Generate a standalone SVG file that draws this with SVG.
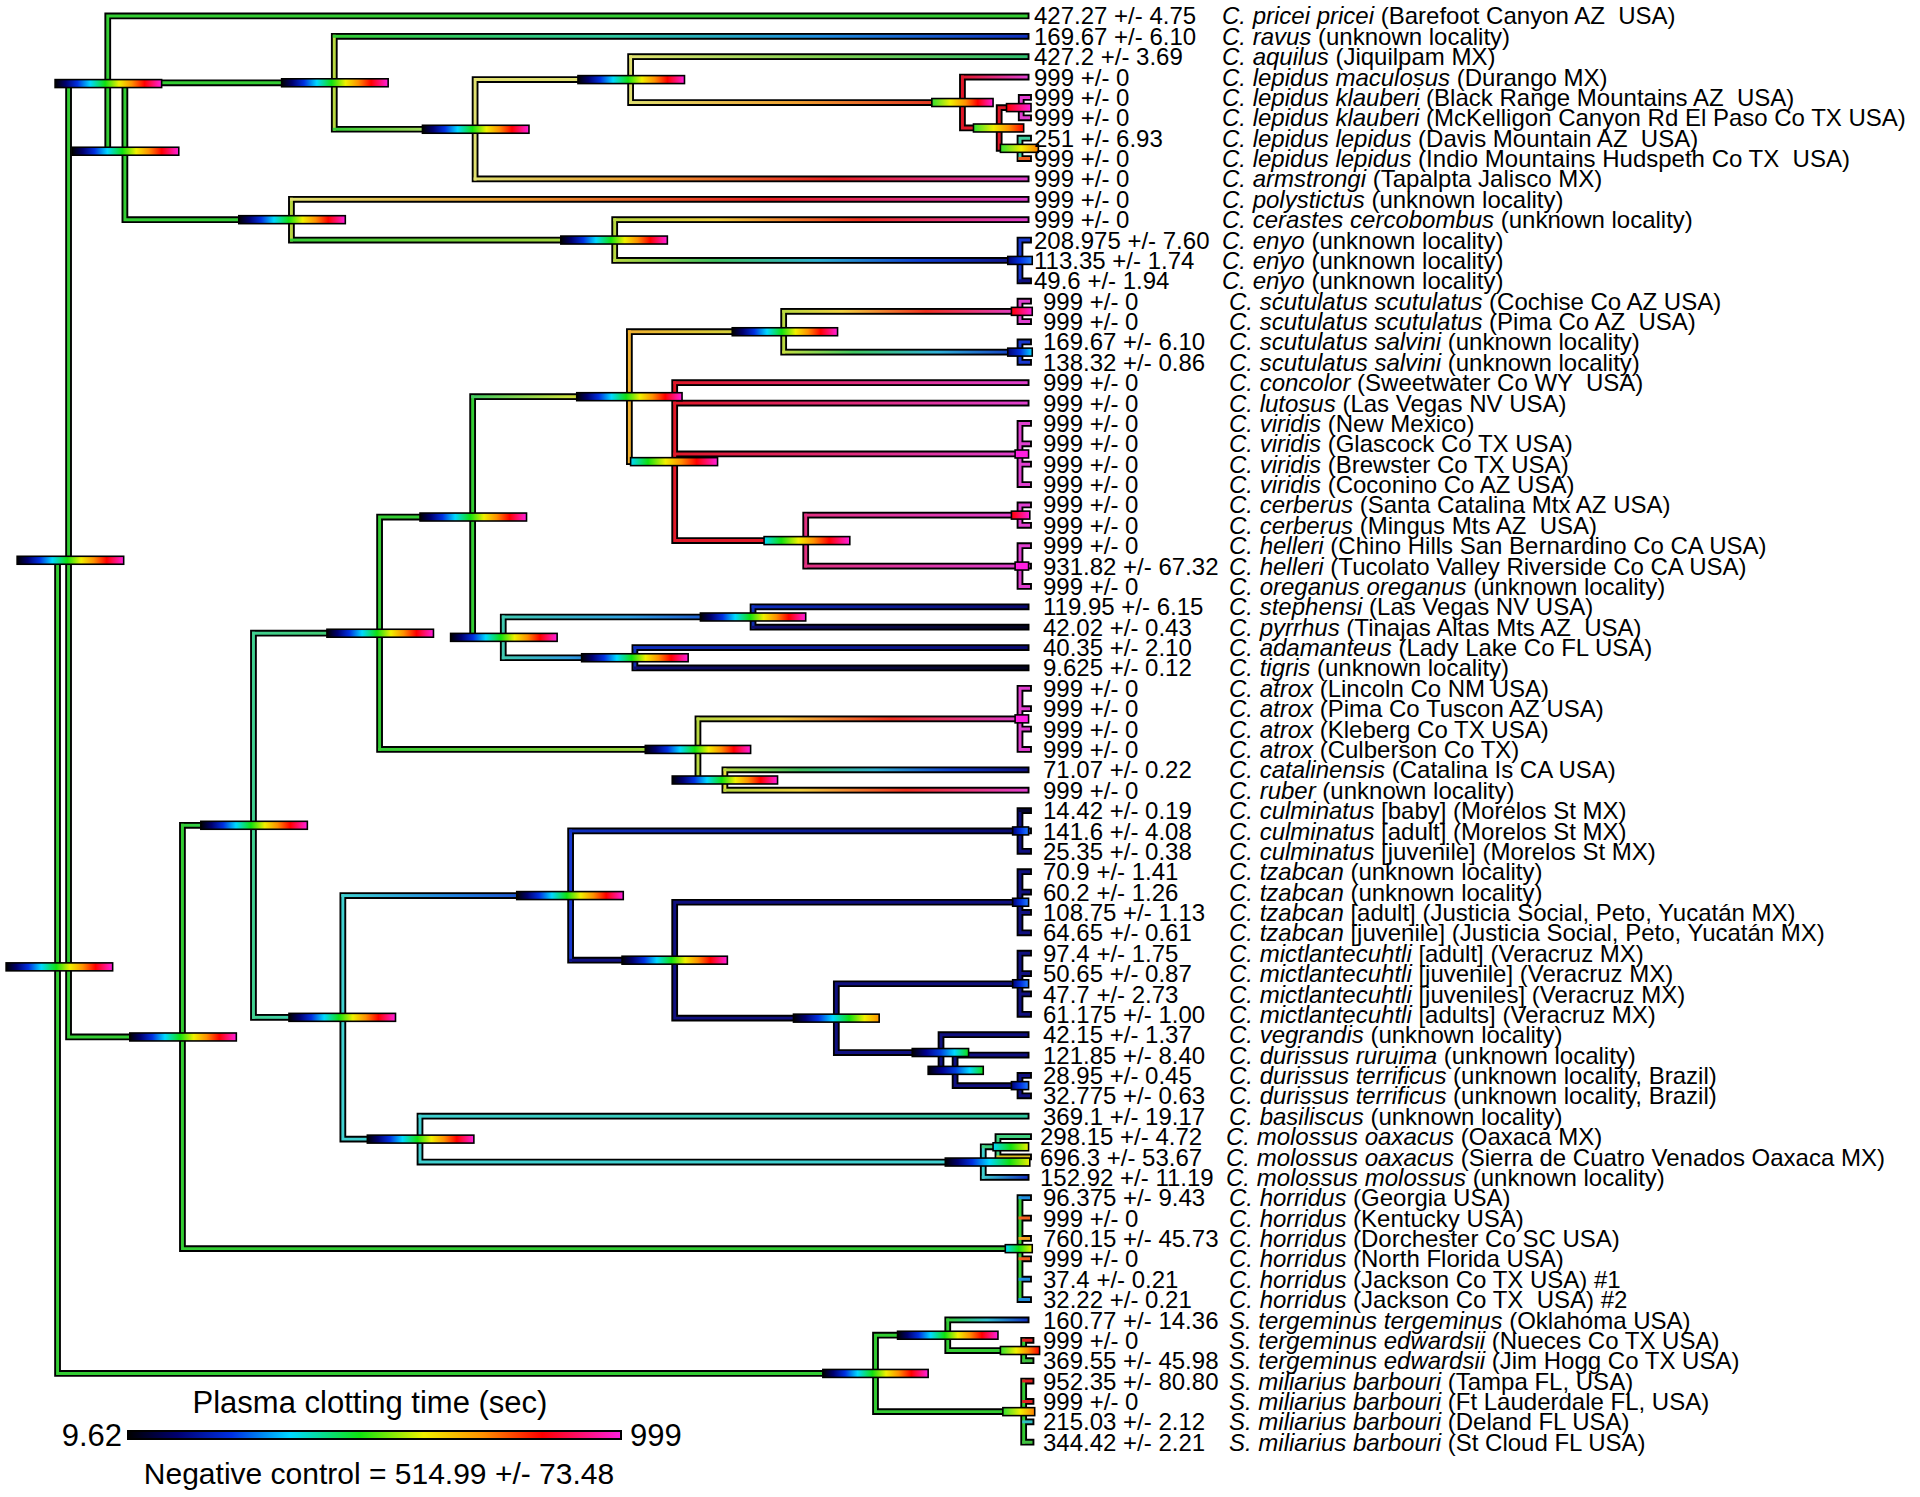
<svg xmlns="http://www.w3.org/2000/svg" width="1920" height="1497" viewBox="0 0 1920 1497">
<style>
text{font-family:"Liberation Sans",Arial,sans-serif;font-size:24px;fill:#000;white-space:pre}
.i{font-style:italic}
.lg{font-size:31px}
.bo{fill:none;stroke:#000;stroke-width:5.5;stroke-linecap:square}
.in{fill:none;stroke-width:2.4;stroke-linecap:square}
.bar{stroke:#000;stroke-width:1.3}
</style>
<defs>
<linearGradient id="rb"><stop offset="0" stop-color="#000"/><stop offset=".1" stop-color="#000070"/><stop offset=".21" stop-color="#0030e0"/><stop offset=".33" stop-color="#00d8ff"/><stop offset=".47" stop-color="#10e010"/><stop offset=".6" stop-color="#f0f000"/><stop offset=".72" stop-color="#ff9000"/><stop offset=".84" stop-color="#ff0000"/><stop offset="1" stop-color="#ff20e0"/></linearGradient>
<linearGradient id="rb_c"><stop offset="0" stop-color="#00d8ff"/><stop offset=".2" stop-color="#10e010"/><stop offset=".4" stop-color="#f0f000"/><stop offset=".58" stop-color="#ff9000"/><stop offset=".76" stop-color="#ff0000"/><stop offset="1" stop-color="#ff20e0"/></linearGradient>
<linearGradient id="rb_ko"><stop offset="0" stop-color="#000"/><stop offset=".14" stop-color="#000070"/><stop offset=".29" stop-color="#0030e0"/><stop offset=".46" stop-color="#00d8ff"/><stop offset=".65" stop-color="#10e010"/><stop offset=".83" stop-color="#f0f000"/><stop offset="1" stop-color="#ff9000"/></linearGradient>
<linearGradient id="rb_kg"><stop offset="0" stop-color="#000"/><stop offset=".25" stop-color="#000090"/><stop offset=".5" stop-color="#0040e0"/><stop offset=".75" stop-color="#00d8ff"/><stop offset="1" stop-color="#10e010"/></linearGradient>
<linearGradient id="rb_gm"><stop offset="0" stop-color="#30e030"/><stop offset=".3" stop-color="#f0f000"/><stop offset=".55" stop-color="#ff9000"/><stop offset=".75" stop-color="#ff0000"/><stop offset="1" stop-color="#ff20e0"/></linearGradient>
<linearGradient id="rb_gr"><stop offset="0" stop-color="#30e030"/><stop offset=".4" stop-color="#f0f000"/><stop offset=".7" stop-color="#ff9000"/><stop offset="1" stop-color="#ff0000"/></linearGradient>
<linearGradient id="rb_go"><stop offset="0" stop-color="#30e030"/><stop offset=".55" stop-color="#f0f000"/><stop offset="1" stop-color="#ff8000"/></linearGradient>
<linearGradient id="rb_rm"><stop offset="0" stop-color="#ff0000"/><stop offset="1" stop-color="#ff20e0"/></linearGradient>
<linearGradient id="rb_nb"><stop offset="0" stop-color="#000070"/><stop offset=".5" stop-color="#0030e0"/><stop offset="1" stop-color="#2080ff"/></linearGradient>
<linearGradient id="rb_nc"><stop offset="0" stop-color="#000070"/><stop offset=".5" stop-color="#0030e0"/><stop offset="1" stop-color="#00d8ff"/></linearGradient>
<linearGradient id="rb_ky"><stop offset="0" stop-color="#000"/><stop offset=".15" stop-color="#000070"/><stop offset=".32" stop-color="#0030e0"/><stop offset=".52" stop-color="#00d8ff"/><stop offset=".76" stop-color="#10e010"/><stop offset="1" stop-color="#f0f000"/></linearGradient>
<linearGradient id="rb_cy"><stop offset="0" stop-color="#00d8ff"/><stop offset=".5" stop-color="#10e010"/><stop offset="1" stop-color="#f0f000"/></linearGradient>
<linearGradient id="g_ravus"><stop offset="0" stop-color="#33cc33"/><stop offset=".4" stop-color="#30c8a0"/><stop offset=".7" stop-color="#2090e0"/><stop offset="1" stop-color="#1030c0"/></linearGradient>
<linearGradient id="g_gy"><stop offset="0" stop-color="#33cc33"/><stop offset="1" stop-color="#e0e070"/></linearGradient>
<linearGradient id="g_aq"><stop offset="0" stop-color="#e0e070"/><stop offset=".5" stop-color="#80d050"/><stop offset="1" stop-color="#30c070"/></linearGradient>
<linearGradient id="g_yor"><stop offset="0" stop-color="#e0e070"/><stop offset=".5" stop-color="#f0a030"/><stop offset="1" stop-color="#e02020"/></linearGradient>
<linearGradient id="g_ym"><stop offset="0" stop-color="#e0e070"/><stop offset=".3" stop-color="#f0a030"/><stop offset=".65" stop-color="#e82020"/><stop offset="1" stop-color="#e040d0"/></linearGradient>
<linearGradient id="g_rm"><stop offset="0" stop-color="#e01828"/><stop offset="1" stop-color="#e040d0"/></linearGradient>
<linearGradient id="g_gyg"><stop offset="0" stop-color="#33cc33"/><stop offset="1" stop-color="#b8d840"/></linearGradient>
<linearGradient id="g_cer"><stop offset="0" stop-color="#b8d840"/><stop offset=".25" stop-color="#f0d040"/><stop offset=".6" stop-color="#f03020"/><stop offset="1" stop-color="#e040d0"/></linearGradient>
<linearGradient id="g_enyo"><stop offset="0" stop-color="#b8d840"/><stop offset=".25" stop-color="#40c060"/><stop offset=".5" stop-color="#30b0d0"/><stop offset=".75" stop-color="#1040d0"/><stop offset="1" stop-color="#101080"/></linearGradient>
<linearGradient id="g_gt"><stop offset="0" stop-color="#33cc33"/><stop offset="1" stop-color="#40d090"/></linearGradient>
<linearGradient id="g_tg"><stop offset="0" stop-color="#40d090"/><stop offset="1" stop-color="#40c860"/></linearGradient>
<linearGradient id="g_gyo"><stop offset="0" stop-color="#40c860"/><stop offset=".6" stop-color="#c8e040"/><stop offset="1" stop-color="#f0b030"/></linearGradient>
<linearGradient id="g_oy"><stop offset="0" stop-color="#f0b030"/><stop offset="1" stop-color="#c8e040"/></linearGradient>
<linearGradient id="g_salv"><stop offset="0" stop-color="#c8e040"/><stop offset=".3" stop-color="#40c860"/><stop offset=".65" stop-color="#30b0d8"/><stop offset="1" stop-color="#1030c0"/></linearGradient>
<linearGradient id="g_or"><stop offset="0" stop-color="#f0b030"/><stop offset="1" stop-color="#e01828"/></linearGradient>
<linearGradient id="g_pm"><stop offset="0" stop-color="#e03080"/><stop offset="1" stop-color="#e040d0"/></linearGradient>
<linearGradient id="g_tb"><stop offset="0" stop-color="#40c8b0"/><stop offset=".5" stop-color="#30a0e0"/><stop offset="1" stop-color="#1030c0"/></linearGradient>
<linearGradient id="g_bn"><stop offset="0" stop-color="#1030c0"/><stop offset="1" stop-color="#0a0a70"/></linearGradient>
<linearGradient id="g_nk"><stop offset="0" stop-color="#101070"/><stop offset="1" stop-color="#050520"/></linearGradient>
<linearGradient id="g_tc"><stop offset="0" stop-color="#40d090"/><stop offset="1" stop-color="#40d0d0"/></linearGradient>
<linearGradient id="g_cb"><stop offset="0" stop-color="#40d0d0"/><stop offset=".5" stop-color="#2080e0"/><stop offset="1" stop-color="#1830c0"/></linearGradient>
<linearGradient id="g_ct"><stop offset="0" stop-color="#40d0d0"/><stop offset="1" stop-color="#30c8a0"/></linearGradient>
<linearGradient id="g_cbl"><stop offset="0" stop-color="#40d0d0"/><stop offset="1" stop-color="#1030c0"/></linearGradient>
<linearGradient id="g_terg"><stop offset="0" stop-color="#33cc33"/><stop offset=".5" stop-color="#30c0d0"/><stop offset="1" stop-color="#1030c0"/></linearGradient>
</defs>
<rect width="1920" height="1497" fill="#fff"/>
<g transform="scale(1.22449)">
<g id="connectors">
<path class="bo" d="M47 457.55V1121.64M47 457.55H56M56 68.25V846.86M56 68.25H88M88 13V123.5M88 13H838M88 123.5H102M102 67.6V179.4M102 67.6H273M273 29.64V105.56M273 29.64H838M273 105.56H388M388 65V146.12M388 65H515M388 146.12H838M515 46.28V83.72M515 46.28H838M515 83.72H786M786 62.92V104.52M786 62.92H838M786 104.52H816M816 87.88V121.16M816 87.88H834M834 79.56V96.2M834 79.56H840M834 96.2H840M816 121.16H833M833 112.84V129.48M833 112.84H840M833 129.48H840M102 179.4H238M238 162.76V196.04M238 162.76H838M238 196.04H502M502 179.4V212.68M502 179.4H838M502 212.68H833M833 196.04V229.32M833 196.04H840M833 212.68H840M833 229.32H840M56 846.86H149M149 673.99V1019.72M149 1019.72H833M833 978.12V1061.32M833 978.12H840M833 994.76H840M833 1011.4H840M833 1028.04H840M833 1044.68H840M833 1061.32H840M149 673.99H207M207 517.14V830.83M207 517.14H310M310 422.24V612.04M310 422.24H386M386 323.96V520.52M386 323.96H514M514 270.92V377M514 270.92H640M640 254.28V287.56M640 254.28H833M833 245.96V262.6M833 245.96H840M833 262.6H840M640 287.56H833M833 279.24V295.88M833 279.24H840M833 295.88H840M514 377H551M551 312.52V441.48M551 312.52H838M551 329.16H838M551 370.76H833M833 345.8V395.72M833 345.8H840M833 362.44H840M833 379.08H840M833 395.72H840M551 441.48H658M658 420.68V462.28M658 420.68H833M833 412.36V429M833 412.36H840M833 429H840M658 462.28H833M833 445.64V478.92M833 445.64H840M833 462.28H840M833 478.92H840M386 520.52H411M411 503.88V537.16M411 503.88H615M615 495.56V512.2M615 495.56H838M615 512.2H838M411 537.16H518.5M518.5 528.84V545.48M518.5 528.84H838M518.5 545.48H838M310 612.04H570M570 587.08V637M570 587.08H833M833 562.12V612.04M833 562.12H840M833 578.76H840M833 595.4H840M833 612.04H840M570 637H592M592 628.68V645.32M592 628.68H838M592 645.32H838M207 830.83H280M280 731.38V930.28M280 731.38H466M466 678.6V784.16M466 678.6H833M833 661.96V695.24M833 661.96H840M833 678.6H840M833 695.24H840M466 784.16H551M551 736.84V831.48M551 736.84H833M833 711.88V761.8M833 711.88H840M833 728.52H840M833 745.16H840M833 761.8H840M551 831.48H683M683 803.4V859.56M683 803.4H833M833 778.44V828.36M833 778.44H840M833 795.08H840M833 811.72H840M833 828.36H840M683 859.56H768.5M768.5 845V874.12M768.5 845H838M768.5 874.12H780M780 861.64V886.6M780 861.64H838M780 886.6H833M833 878.28V894.92M833 878.28H840M833 894.92H840M280 930.28H343M343 911.56V949M343 911.56H838M343 949H803M803 936.52V961.48M803 936.52H815M815 928.2V944.84M815 928.2H840M815 944.84H840M803 961.48H838M47 1121.64H715M715 1090.44V1152.84M715 1090.44H774M774 1077.96V1102.92M774 1077.96H838M774 1102.92H836M836 1094.6V1111.24M836 1094.6H842M836 1111.24H842M715 1152.84H836M836 1127.88V1177.8M836 1127.88H842M836 1144.52H842M836 1161.16H842M836 1177.8H842"/>
<path class="in" stroke="#33cc33" d="M47 457.55V1121.64M47 457.55H56M56 68.25V846.86M56 68.25H88M88 13V123.5M88 13H838M88 123.5H102M102 67.6V179.4M102 67.6H273M102 179.4H238M56 846.86H149M149 673.99V1019.72M149 1019.72H833M47 1121.64H715M715 1090.44V1152.84M715 1090.44H774M774 1077.96V1102.92M774 1102.92H836M715 1152.84H836M836 1094.6V1111.24M836 1127.88V1177.8M310 422.24V612.04M310 422.24H386M386 323.96V520.52M833 978.12V1061.32"/>
<path class="in" stroke="#e0e070" d="M388 65V146.12M388 65H515M515 46.28V83.72"/>
<path class="in" stroke="#b8d840" d="M273 29.64V105.56M238 162.76V196.04M502 179.4V212.68M640 254.28V287.56M570 587.08V637M570 637H592"/>
<path class="in" stroke="#e8e040" d="M592 628.68V645.32"/>
<path class="in" stroke="#f0b030" d="M514 270.92V377"/>
<path class="in" stroke="#e01828" d="M786 62.92V104.52M786 104.52H816M816 87.88V121.16M816 87.88H834M816 121.16H833M551 312.52V441.48M551 441.48H658"/>
<path class="in" stroke="#e03080" d="M658 420.68V462.28"/>
<path class="in" stroke="#e040d0" d="M834 79.56V96.2M834 79.56H840M834 96.2H840M833 245.96V262.6M833 245.96H840M833 262.6H840M833 345.8V395.72M833 345.8H840M833 362.44H840M833 379.08H840M833 395.72H840M833 412.36V429M833 412.36H840M833 429H840M833 445.64V478.92M833 445.64H840M833 462.28H840M833 478.92H840M833 562.12V612.04M833 562.12H840M833 578.76H840M833 595.4H840M833 612.04H840"/>
<path class="in" stroke="#1838d0" d="M833 196.04V229.32M833 196.04H840M833 212.68H840M833 279.24V295.88M833 279.24H840M833 295.88H840M466 678.6V784.16M833 678.6H840"/>
<path class="in" stroke="#101080" d="M833 229.32H840M466 784.16H551M551 736.84V831.48M551 736.84H833M551 831.48H683M683 803.4V859.56M683 803.4H833M683 859.56H768.5M768.5 845V874.12M768.5 845H838M768.5 874.12H780M780 861.64V886.6M780 861.64H838M780 886.6H833M833 661.96V695.24M833 695.24H840M833 711.88V761.8M833 711.88H840M833 728.52H840M833 745.16H840M833 761.8H840M833 778.44V828.36M833 778.44H840M833 795.08H840M833 811.72H840M833 828.36H840M833 878.28V894.92M833 878.28H840M833 894.92H840"/>
<path class="in" stroke="#050530" d="M833 661.96H840"/>
<path class="in" stroke="#1030b0" d="M615 495.56V512.2M518.5 528.84V545.48"/>
<path class="in" stroke="#40d090" d="M207 517.14V830.83"/>
<path class="in" stroke="#40c8b0" d="M411 503.88V537.16M386 520.52H411"/>
<path class="in" stroke="#40d0d0" d="M280 731.38V930.28M280 930.28H343M343 911.56V949M343 949H803M803 936.52V961.48"/>
<path class="in" stroke="#40d080" d="M815 928.2V944.84M803 936.52H815M815 928.2H840"/>
<path class="in" stroke="#e0c020" d="M815 944.84H840"/>
<path class="in" stroke="#40d0a0" d="M833 112.84V129.48M833 112.84H840"/>
<path class="in" stroke="#f06020" d="M833 129.48H840M833 994.76H840M833 1028.04H840"/>
<path class="in" stroke="#2090e0" d="M833 978.12H840M833 1044.68H840M833 1061.32H840"/>
<path class="in" stroke="#f0a020" d="M833 1011.4H840"/>
<path class="in" stroke="#e02020" d="M836 1094.6H842M836 1127.88H842M836 1144.52H842"/>
<path class="in" stroke="#40c040" d="M836 1111.24H842M836 1177.8H842"/>
<path class="in" stroke="#30c0c0" d="M836 1161.16H842"/>
<rect x="271.8" y="28.44" width="567.4" height="2.4" fill="url(#g_ravus)"/>
<rect x="271.8" y="104.36" width="117.4" height="2.4" fill="url(#g_gy)"/>
<rect x="513.8" y="45.08" width="325.4" height="2.4" fill="url(#g_aq)"/>
<rect x="513.8" y="82.52" width="273.4" height="2.4" fill="url(#g_yor)"/>
<rect x="386.8" y="144.92" width="452.4" height="2.4" fill="url(#g_ym)"/>
<rect x="784.8" y="61.72" width="54.4" height="2.4" fill="url(#g_rm)"/>
<rect x="236.8" y="161.56" width="602.4" height="2.4" fill="url(#g_ym)"/>
<rect x="236.8" y="194.84" width="266.4" height="2.4" fill="url(#g_gyg)"/>
<rect x="500.8" y="178.2" width="338.4" height="2.4" fill="url(#g_cer)"/>
<rect x="500.8" y="211.48" width="333.4" height="2.4" fill="url(#g_enyo)"/>
<rect x="147.8" y="672.79" width="60.4" height="2.4" fill="url(#g_gt)"/>
<rect x="205.8" y="515.94" width="105.4" height="2.4" fill="url(#g_tg)"/>
<rect x="384.8" y="322.76" width="130.4" height="2.4" fill="url(#g_gyo)"/>
<rect x="512.8" y="269.72" width="128.4" height="2.4" fill="url(#g_oy)"/>
<rect x="638.8" y="253.08" width="195.4" height="2.4" fill="url(#g_cer)"/>
<rect x="638.8" y="286.36" width="195.4" height="2.4" fill="url(#g_salv)"/>
<rect x="512.8" y="375.8" width="39.4" height="2.4" fill="url(#g_or)"/>
<rect x="549.8" y="311.32" width="289.4" height="2.4" fill="url(#g_rm)"/>
<rect x="549.8" y="327.96" width="289.4" height="2.4" fill="url(#g_rm)"/>
<rect x="549.8" y="369.56" width="284.4" height="2.4" fill="url(#g_rm)"/>
<rect x="656.8" y="419.48" width="177.4" height="2.4" fill="url(#g_pm)"/>
<rect x="656.8" y="461.08" width="177.4" height="2.4" fill="url(#g_pm)"/>
<rect x="409.8" y="502.68" width="206.4" height="2.4" fill="url(#g_tb)"/>
<rect x="613.8" y="494.36" width="225.4" height="2.4" fill="url(#g_bn)"/>
<rect x="613.8" y="511" width="225.4" height="2.4" fill="url(#g_nk)"/>
<rect x="409.8" y="535.96" width="109.9" height="2.4" fill="url(#g_tb)"/>
<rect x="517.3" y="527.64" width="321.9" height="2.4" fill="url(#g_bn)"/>
<rect x="517.3" y="544.28" width="321.9" height="2.4" fill="url(#g_nk)"/>
<rect x="308.8" y="610.84" width="262.4" height="2.4" fill="url(#g_gyg)"/>
<rect x="568.8" y="585.88" width="265.4" height="2.4" fill="url(#g_cer)"/>
<rect x="590.8" y="627.48" width="248.4" height="2.4" fill="url(#g_enyo)"/>
<rect x="590.8" y="644.12" width="248.4" height="2.4" fill="url(#g_cer)"/>
<rect x="205.8" y="829.63" width="75.4" height="2.4" fill="url(#g_tc)"/>
<rect x="278.8" y="730.18" width="188.4" height="2.4" fill="url(#g_cb)"/>
<rect x="464.8" y="677.4" width="369.4" height="2.4" fill="url(#g_bn)"/>
<rect x="341.8" y="910.36" width="497.4" height="2.4" fill="url(#g_ct)"/>
<rect x="801.8" y="960.28" width="37.4" height="2.4" fill="url(#g_cbl)"/>
<rect x="772.8" y="1076.76" width="66.4" height="2.4" fill="url(#g_terg)"/>
</g>
<g id="node-R0"><rect class="bar" x="5" y="786.35" width="87" height="6.5" fill="url(#rb)"/></g>
<g id="node-R1"><rect class="bar" x="14" y="454.3" width="87" height="6.5" fill="url(#rb)"/></g>
<g id="node-Na"><rect class="bar" x="45" y="65" width="87" height="6.5" fill="url(#rb)"/></g>
<g id="node-Na2"><rect class="bar" x="59" y="120.25" width="87" height="6.5" fill="url(#rb)"/></g>
<g id="node-Nc"><rect class="bar" x="230" y="64.35" width="87" height="6.5" fill="url(#rb)"/></g>
<g id="node-Ne"><rect class="bar" x="345" y="102.31" width="87" height="6.5" fill="url(#rb)"/></g>
<g id="node-Nf"><rect class="bar" x="472" y="61.75" width="87" height="6.5" fill="url(#rb)"/></g>
<g id="node-Ng"><rect class="bar" x="761" y="80.47" width="50" height="6.5" fill="url(#rb_gm)"/></g>
<g id="node-Nh"><rect class="bar" x="795" y="101.27" width="41" height="6.5" fill="url(#rb_gr)"/></g>
<g id="node-Ni"><rect class="bar" x="822" y="84.63" width="20" height="6.5" fill="url(#rb_rm)"/></g>
<g id="node-Nj"><rect class="bar" x="817" y="117.91" width="31" height="6.5" fill="url(#rb_go)"/></g>
<g id="node-Nd"><rect class="bar" x="195" y="176.15" width="87" height="6.5" fill="url(#rb)"/></g>
<g id="node-Nk"><rect class="bar" x="458" y="192.79" width="87" height="6.5" fill="url(#rb)"/></g>
<g id="node-Nl"><rect class="bar" x="823" y="209.43" width="20" height="6.5" fill="url(#rb_nb)"/></g>
<g id="node-Nb"><rect class="bar" x="106" y="843.61" width="87" height="6.5" fill="url(#rb)"/></g>
<g id="node-Nm"><rect class="bar" x="164" y="670.74" width="87" height="6.5" fill="url(#rb)"/></g>
<g id="node-Nn"><rect class="bar" x="267" y="513.89" width="87" height="6.5" fill="url(#rb)"/></g>
<g id="node-Np"><rect class="bar" x="343" y="418.99" width="87" height="6.5" fill="url(#rb)"/></g>
<g id="node-Nr"><rect class="bar" x="471" y="320.71" width="86" height="6.5" fill="url(#rb)"/></g>
<g id="node-Nt"><rect class="bar" x="598" y="267.67" width="86" height="6.5" fill="url(#rb)"/></g>
<g id="node-scut"><rect class="bar" x="826" y="251.03" width="17" height="6.5" fill="url(#rb_rm)"/></g>
<g id="node-salv"><rect class="bar" x="823" y="284.31" width="20" height="6.5" fill="url(#rb_nc)"/></g>
<g id="node-Nu"><rect class="bar" x="515" y="373.75" width="71" height="6.5" fill="url(#rb_c)"/></g>
<g id="node-vir"><rect class="bar" x="829" y="367.51" width="11" height="6.5" fill="#ff20e0"/></g>
<g id="node-Nv"><rect class="bar" x="624" y="438.23" width="70" height="6.5" fill="url(#rb_c)"/></g>
<g id="node-cerb"><rect class="bar" x="826" y="417.43" width="15" height="6.5" fill="url(#rb_rm)"/></g>
<g id="node-hell"><rect class="bar" x="829" y="459.03" width="11" height="6.5" fill="#ff20e0"/></g>
<g id="node-Ns"><rect class="bar" x="368" y="517.27" width="87" height="6.5" fill="url(#rb)"/></g>
<g id="node-Nw"><rect class="bar" x="572" y="500.63" width="86" height="6.5" fill="url(#rb)"/></g>
<g id="node-Nx"><rect class="bar" x="475" y="533.91" width="87" height="6.5" fill="url(#rb)"/></g>
<g id="node-Nq"><rect class="bar" x="527" y="608.79" width="86" height="6.5" fill="url(#rb)"/></g>
<g id="node-atrox"><rect class="bar" x="829" y="583.83" width="11" height="6.5" fill="#ff20e0"/></g>
<g id="node-Ny"><rect class="bar" x="549" y="633.75" width="86" height="6.5" fill="url(#rb)"/></g>
<g id="node-No"><rect class="bar" x="236" y="827.58" width="87" height="6.5" fill="url(#rb)"/></g>
<g id="node-Nz"><rect class="bar" x="422" y="728.13" width="87" height="6.5" fill="url(#rb)"/></g>
<g id="node-culm"><rect class="bar" x="827" y="675.35" width="13" height="6.5" fill="url(#rb_nb)"/></g>
<g id="node-Nab"><rect class="bar" x="508" y="780.91" width="86" height="6.5" fill="url(#rb)"/></g>
<g id="node-tzab"><rect class="bar" x="827" y="733.59" width="13" height="6.5" fill="url(#rb_nb)"/></g>
<g id="node-Nac"><rect class="bar" x="648" y="828.23" width="70" height="6.5" fill="url(#rb_ko)"/></g>
<g id="node-mict"><rect class="bar" x="827" y="800.15" width="13" height="6.5" fill="url(#rb_nb)"/></g>
<g id="node-Nad"><rect class="bar" x="745" y="856.31" width="46" height="6.5" fill="url(#rb_kg)"/></g>
<g id="node-Nae"><rect class="bar" x="758" y="870.87" width="45" height="6.5" fill="url(#rb_kg)"/></g>
<g id="node-terr"><rect class="bar" x="826" y="883.35" width="14" height="6.5" fill="url(#rb_nb)"/></g>
<g id="node-Naa"><rect class="bar" x="300" y="927.03" width="87" height="6.5" fill="url(#rb)"/></g>
<g id="node-mol"><rect class="bar" x="772" y="945.75" width="69" height="6.5" fill="url(#rb_ky)"/></g>
<g id="node-oax"><rect class="bar" x="811" y="933.27" width="29" height="6.5" fill="url(#rb_cy)"/></g>
<g id="node-horr"><rect class="bar" x="821" y="1016.47" width="22" height="6.5" fill="url(#rb_cy)"/></g>
<g id="node-S"><rect class="bar" x="672" y="1118.39" width="86" height="6.5" fill="url(#rb)"/></g>
<g id="node-Nag"><rect class="bar" x="733" y="1087.19" width="82" height="6.5" fill="url(#rb)"/></g>
<g id="node-edw"><rect class="bar" x="817" y="1099.67" width="32" height="6.5" fill="url(#rb_gr)"/></g>
<g id="node-mil"><rect class="bar" x="819" y="1149.59" width="26" height="6.5" fill="url(#rb_go)"/></g>
</g>
<g id="leaf-01"><text y="24.4"><tspan x="1034">427.27 +/- 4.75</tspan><tspan x="1222" class="i">C. pricei pricei</tspan><tspan> (Barefoot Canyon AZ  USA)</tspan></text></g>
<g id="leaf-02"><text y="44.8"><tspan x="1034">169.67 +/- 6.10</tspan><tspan x="1222" class="i">C. ravus</tspan><tspan> (unknown locality)</tspan></text></g>
<g id="leaf-03"><text y="65.2"><tspan x="1034">427.2 +/- 3.69</tspan><tspan x="1222" class="i">C. aquilus</tspan><tspan> (Jiquilpam MX)</tspan></text></g>
<g id="leaf-04"><text y="85.5"><tspan x="1034">999 +/- 0</tspan><tspan x="1222" class="i">C. lepidus maculosus</tspan><tspan> (Durango MX)</tspan></text></g>
<g id="leaf-05"><text y="105.9"><tspan x="1034">999 +/- 0</tspan><tspan x="1222" class="i">C. lepidus klauberi</tspan><tspan> (Black Range Mountains AZ  USA)</tspan></text></g>
<g id="leaf-06"><text y="126.3"><tspan x="1034">999 +/- 0</tspan><tspan x="1222" class="i">C. lepidus klauberi</tspan><tspan> (McKelligon Canyon Rd El Paso Co TX USA)</tspan></text></g>
<g id="leaf-07"><text y="146.7"><tspan x="1034">251 +/- 6.93</tspan><tspan x="1222" class="i">C. lepidus lepidus</tspan><tspan> (Davis Mountain AZ  USA)</tspan></text></g>
<g id="leaf-08"><text y="167.0"><tspan x="1034">999 +/- 0</tspan><tspan x="1222" class="i">C. lepidus lepidus</tspan><tspan> (Indio Mountains Hudspeth Co TX  USA)</tspan></text></g>
<g id="leaf-09"><text y="187.4"><tspan x="1034">999 +/- 0</tspan><tspan x="1222" class="i">C. armstrongi</tspan><tspan> (Tapalpta Jalisco MX)</tspan></text></g>
<g id="leaf-10"><text y="207.8"><tspan x="1034">999 +/- 0</tspan><tspan x="1222" class="i">C. polystictus</tspan><tspan> (unknown locality)</tspan></text></g>
<g id="leaf-11"><text y="228.2"><tspan x="1034">999 +/- 0</tspan><tspan x="1222" class="i">C. cerastes cercobombus</tspan><tspan> (unknown locality)</tspan></text></g>
<g id="leaf-12"><text y="248.5"><tspan x="1034">208.975 +/- 7.60</tspan><tspan x="1222" class="i">C. enyo</tspan><tspan> (unknown locality)</tspan></text></g>
<g id="leaf-13"><text y="268.9"><tspan x="1034">113.35 +/- 1.74</tspan><tspan x="1222" class="i">C. enyo</tspan><tspan> (unknown locality)</tspan></text></g>
<g id="leaf-14"><text y="289.3"><tspan x="1034">49.6 +/- 1.94</tspan><tspan x="1222" class="i">C. enyo</tspan><tspan> (unknown locality)</tspan></text></g>
<g id="leaf-15"><text y="309.7"><tspan x="1043">999 +/- 0</tspan><tspan x="1229" class="i">C. scutulatus scutulatus</tspan><tspan> (Cochise Co AZ USA)</tspan></text></g>
<g id="leaf-16"><text y="330.0"><tspan x="1043">999 +/- 0</tspan><tspan x="1229" class="i">C. scutulatus scutulatus</tspan><tspan> (Pima Co AZ  USA)</tspan></text></g>
<g id="leaf-17"><text y="350.4"><tspan x="1043">169.67 +/- 6.10</tspan><tspan x="1229" class="i">C. scutulatus salvini</tspan><tspan> (unknown locality)</tspan></text></g>
<g id="leaf-18"><text y="370.8"><tspan x="1043">138.32 +/- 0.86</tspan><tspan x="1229" class="i">C. scutulatus salvini</tspan><tspan> (unknown locality)</tspan></text></g>
<g id="leaf-19"><text y="391.2"><tspan x="1043">999 +/- 0</tspan><tspan x="1229" class="i">C. concolor</tspan><tspan> (Sweetwater Co WY  USA)</tspan></text></g>
<g id="leaf-20"><text y="411.6"><tspan x="1043">999 +/- 0</tspan><tspan x="1229" class="i">C. lutosus</tspan><tspan> (Las Vegas NV USA)</tspan></text></g>
<g id="leaf-21"><text y="431.9"><tspan x="1043">999 +/- 0</tspan><tspan x="1229" class="i">C. viridis</tspan><tspan> (New Mexico)</tspan></text></g>
<g id="leaf-22"><text y="452.3"><tspan x="1043">999 +/- 0</tspan><tspan x="1229" class="i">C. viridis</tspan><tspan> (Glascock Co TX USA)</tspan></text></g>
<g id="leaf-23"><text y="472.7"><tspan x="1043">999 +/- 0</tspan><tspan x="1229" class="i">C. viridis</tspan><tspan> (Brewster Co TX USA)</tspan></text></g>
<g id="leaf-24"><text y="493.1"><tspan x="1043">999 +/- 0</tspan><tspan x="1229" class="i">C. viridis</tspan><tspan> (Coconino Co AZ USA)</tspan></text></g>
<g id="leaf-25"><text y="513.4"><tspan x="1043">999 +/- 0</tspan><tspan x="1229" class="i">C. cerberus</tspan><tspan> (Santa Catalina Mtx AZ USA)</tspan></text></g>
<g id="leaf-26"><text y="533.8"><tspan x="1043">999 +/- 0</tspan><tspan x="1229" class="i">C. cerberus</tspan><tspan> (Mingus Mts AZ  USA)</tspan></text></g>
<g id="leaf-27"><text y="554.2"><tspan x="1043">999 +/- 0</tspan><tspan x="1229" class="i">C. helleri</tspan><tspan> (Chino Hills San Bernardino Co CA USA)</tspan></text></g>
<g id="leaf-28"><text y="574.6"><tspan x="1043">931.82 +/- 67.32</tspan><tspan x="1229" class="i">C. helleri</tspan><tspan> (Tucolato Valley Riverside Co CA USA)</tspan></text></g>
<g id="leaf-29"><text y="594.9"><tspan x="1043">999 +/- 0</tspan><tspan x="1229" class="i">C. oreganus oreganus</tspan><tspan> (unknown locality)</tspan></text></g>
<g id="leaf-30"><text y="615.3"><tspan x="1043">119.95 +/- 6.15</tspan><tspan x="1229" class="i">C. stephensi</tspan><tspan> (Las Vegas NV USA)</tspan></text></g>
<g id="leaf-31"><text y="635.7"><tspan x="1043">42.02 +/- 0.43</tspan><tspan x="1229" class="i">C. pyrrhus</tspan><tspan> (Tinajas Altas Mts AZ  USA)</tspan></text></g>
<g id="leaf-32"><text y="656.1"><tspan x="1043">40.35 +/- 2.10</tspan><tspan x="1229" class="i">C. adamanteus</tspan><tspan> (Lady Lake Co FL USA)</tspan></text></g>
<g id="leaf-33"><text y="676.4"><tspan x="1043">9.625 +/- 0.12</tspan><tspan x="1229" class="i">C. tigris</tspan><tspan> (unknown locality)</tspan></text></g>
<g id="leaf-34"><text y="696.8"><tspan x="1043">999 +/- 0</tspan><tspan x="1229" class="i">C. atrox</tspan><tspan> (Lincoln Co NM USA)</tspan></text></g>
<g id="leaf-35"><text y="717.2"><tspan x="1043">999 +/- 0</tspan><tspan x="1229" class="i">C. atrox</tspan><tspan> (Pima Co Tuscon AZ USA)</tspan></text></g>
<g id="leaf-36"><text y="737.6"><tspan x="1043">999 +/- 0</tspan><tspan x="1229" class="i">C. atrox</tspan><tspan> (Kleberg Co TX USA)</tspan></text></g>
<g id="leaf-37"><text y="758.0"><tspan x="1043">999 +/- 0</tspan><tspan x="1229" class="i">C. atrox</tspan><tspan> (Culberson Co TX)</tspan></text></g>
<g id="leaf-38"><text y="778.3"><tspan x="1043">71.07 +/- 0.22</tspan><tspan x="1229" class="i">C. catalinensis</tspan><tspan> (Catalina Is CA USA)</tspan></text></g>
<g id="leaf-39"><text y="798.7"><tspan x="1043">999 +/- 0</tspan><tspan x="1229" class="i">C. ruber</tspan><tspan> (unknown locality)</tspan></text></g>
<g id="leaf-40"><text y="819.1"><tspan x="1043">14.42 +/- 0.19</tspan><tspan x="1229" class="i">C. culminatus</tspan><tspan> [baby] (Morelos St MX)</tspan></text></g>
<g id="leaf-41"><text y="839.5"><tspan x="1043">141.6 +/- 4.08</tspan><tspan x="1229" class="i">C. culminatus</tspan><tspan> [adult] (Morelos St MX)</tspan></text></g>
<g id="leaf-42"><text y="859.8"><tspan x="1043">25.35 +/- 0.38</tspan><tspan x="1229" class="i">C. culminatus</tspan><tspan> [juvenile] (Morelos St MX)</tspan></text></g>
<g id="leaf-43"><text y="880.2"><tspan x="1043">70.9 +/- 1.41</tspan><tspan x="1229" class="i">C. tzabcan</tspan><tspan> (unknown locality)</tspan></text></g>
<g id="leaf-44"><text y="900.6"><tspan x="1043">60.2 +/- 1.26</tspan><tspan x="1229" class="i">C. tzabcan</tspan><tspan> (unknown locality)</tspan></text></g>
<g id="leaf-45"><text y="921.0"><tspan x="1043">108.75 +/- 1.13</tspan><tspan x="1229" class="i">C. tzabcan</tspan><tspan> [adult] (Justicia Social, Peto, Yucatán MX)</tspan></text></g>
<g id="leaf-46"><text y="941.3"><tspan x="1043">64.65 +/- 0.61</tspan><tspan x="1229" class="i">C. tzabcan</tspan><tspan> [juvenile] (Justicia Social, Peto, Yucatán MX)</tspan></text></g>
<g id="leaf-47"><text y="961.7"><tspan x="1043">97.4 +/- 1.75</tspan><tspan x="1229" class="i">C. mictlantecuhtli</tspan><tspan> [adult] (Veracruz MX)</tspan></text></g>
<g id="leaf-48"><text y="982.1"><tspan x="1043">50.65 +/- 0.87</tspan><tspan x="1229" class="i">C. mictlantecuhtli</tspan><tspan> [juvenile] (Veracruz MX)</tspan></text></g>
<g id="leaf-49"><text y="1002.5"><tspan x="1043">47.7 +/- 2.73</tspan><tspan x="1229" class="i">C. mictlantecuhtli</tspan><tspan> [juveniles] (Veracruz MX)</tspan></text></g>
<g id="leaf-50"><text y="1022.8"><tspan x="1043">61.175 +/- 1.00</tspan><tspan x="1229" class="i">C. mictlantecuhtli</tspan><tspan> [adults] (Veracruz MX)</tspan></text></g>
<g id="leaf-51"><text y="1043.2"><tspan x="1043">42.15 +/- 1.37</tspan><tspan x="1229" class="i">C. vegrandis</tspan><tspan> (unknown locality)</tspan></text></g>
<g id="leaf-52"><text y="1063.6"><tspan x="1043">121.85 +/- 8.40</tspan><tspan x="1229" class="i">C. durissus ruruima</tspan><tspan> (unknown locality)</tspan></text></g>
<g id="leaf-53"><text y="1084.0"><tspan x="1043">28.95 +/- 0.45</tspan><tspan x="1229" class="i">C. durissus terrificus</tspan><tspan> (unknown locality, Brazil)</tspan></text></g>
<g id="leaf-54"><text y="1104.4"><tspan x="1043">32.775 +/- 0.63</tspan><tspan x="1229" class="i">C. durissus terrificus</tspan><tspan> (unknown locality, Brazil)</tspan></text></g>
<g id="leaf-55"><text y="1124.7"><tspan x="1043">369.1 +/- 19.17</tspan><tspan x="1229" class="i">C. basiliscus</tspan><tspan> (unknown locality)</tspan></text></g>
<g id="leaf-56"><text y="1145.1"><tspan x="1040">298.15 +/- 4.72</tspan><tspan x="1226" class="i">C. molossus oaxacus</tspan><tspan> (Oaxaca MX)</tspan></text></g>
<g id="leaf-57"><text y="1165.5"><tspan x="1040">696.3 +/- 53.67</tspan><tspan x="1226" class="i">C. molossus oaxacus</tspan><tspan> (Sierra de Cuatro Venados Oaxaca MX)</tspan></text></g>
<g id="leaf-58"><text y="1185.9"><tspan x="1040">152.92 +/- 11.19</tspan><tspan x="1226" class="i">C. molossus molossus</tspan><tspan> (unknown locality)</tspan></text></g>
<g id="leaf-59"><text y="1206.2"><tspan x="1043">96.375 +/- 9.43</tspan><tspan x="1229" class="i">C. horridus</tspan><tspan> (Georgia USA)</tspan></text></g>
<g id="leaf-60"><text y="1226.6"><tspan x="1043">999 +/- 0</tspan><tspan x="1229" class="i">C. horridus</tspan><tspan> (Kentucky USA)</tspan></text></g>
<g id="leaf-61"><text y="1247.0"><tspan x="1043">760.15 +/- 45.73</tspan><tspan x="1229" class="i">C. horridus</tspan><tspan> (Dorchester Co SC USA)</tspan></text></g>
<g id="leaf-62"><text y="1267.4"><tspan x="1043">999 +/- 0</tspan><tspan x="1229" class="i">C. horridus</tspan><tspan> (North Florida USA)</tspan></text></g>
<g id="leaf-63"><text y="1287.7"><tspan x="1043">37.4 +/- 0.21</tspan><tspan x="1229" class="i">C. horridus</tspan><tspan> (Jackson Co TX USA) #1</tspan></text></g>
<g id="leaf-64"><text y="1308.1"><tspan x="1043">32.22 +/- 0.21</tspan><tspan x="1229" class="i">C. horridus</tspan><tspan> (Jackson Co TX  USA) #2</tspan></text></g>
<g id="leaf-65"><text y="1328.5"><tspan x="1043">160.77 +/- 14.36</tspan><tspan x="1229" class="i">S. tergeminus tergeminus</tspan><tspan> (Oklahoma USA)</tspan></text></g>
<g id="leaf-66"><text y="1348.9"><tspan x="1043">999 +/- 0</tspan><tspan x="1229" class="i">S. tergeminus edwardsii</tspan><tspan> (Nueces Co TX USA)</tspan></text></g>
<g id="leaf-67"><text y="1369.2"><tspan x="1043">369.55 +/- 45.98</tspan><tspan x="1229" class="i">S. tergeminus edwardsii</tspan><tspan> (Jim Hogg Co TX USA)</tspan></text></g>
<g id="leaf-68"><text y="1389.6"><tspan x="1043">952.35 +/- 80.80</tspan><tspan x="1229" class="i">S. miliarius barbouri</tspan><tspan> (Tampa FL, USA)</tspan></text></g>
<g id="leaf-69"><text y="1410.0"><tspan x="1043">999 +/- 0</tspan><tspan x="1229" class="i">S. miliarius barbouri</tspan><tspan> (Ft Lauderdale FL, USA)</tspan></text></g>
<g id="leaf-70"><text y="1430.4"><tspan x="1043">215.03 +/- 2.12</tspan><tspan x="1229" class="i">S. miliarius barbouri</tspan><tspan> (Deland FL USA)</tspan></text></g>
<g id="leaf-71"><text y="1450.7"><tspan x="1043">344.42 +/- 2.21</tspan><tspan x="1229" class="i">S. miliarius barbouri</tspan><tspan> (St Cloud FL USA)</tspan></text></g>
<g id="legend">
<text class="lg" x="370" y="1413" text-anchor="middle">Plasma clotting time (sec)</text>
<rect x="128" y="1431" width="493" height="8" fill="url(#rb)" stroke="#000" stroke-width="2"/>
<text class="lg" x="122" y="1446" text-anchor="end">9.62</text>
<text class="lg" x="630" y="1446">999</text>
<text x="379" y="1484" text-anchor="middle" style="font-size:30px">Negative control = 514.99 +/- 73.48</text>
</g>
</svg>
